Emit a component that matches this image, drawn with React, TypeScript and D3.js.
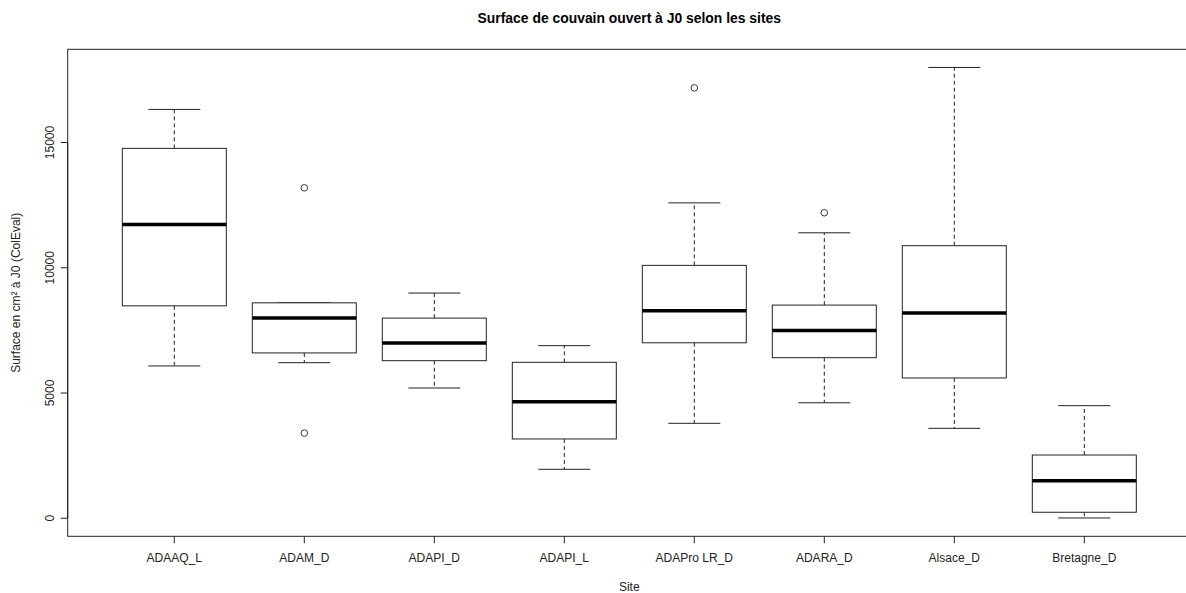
import React from "react";
import * as d3 from "d3";

const categories = ["ADAAQ_L", "ADAM_D", "ADAPI_D", "ADAPI_L", "ADAPro LR_D", "ADARA_D", "Alsace_D", "Bretagne_D"];
const whiskerLow = [6080, 6210, 5200, 1955, 3790, 4610, 3590, 12];
const q1 = [8480, 6600, 6290, 3165, 7005, 6410, 5600, 240];
const medians = [11730, 7990, 6995, 4650, 8285, 7500, 8190, 1500];
const q3 = [14765, 8600, 7990, 6225, 10095, 8510, 10880, 2525];
const whiskerHigh = [16320, 8600, 8990, 6890, 12590, 11395, 17995, 4495];
const outlierCat = ["ADAM_D", "ADAM_D", "ADAPro LR_D", "ADARA_D"];
const outlierVal = [13190, 3400, 17180, 12195];
const yTicks = [0, 5000, 10000, 15000];

const W = 1186, H = 593;
const left = 67.7, right = 1190.9, top = 49.3, bottom = 536.3;

export default function App() {
  const n = categories.length;
  const x = d3.scaleLinear().domain([0.5 - 0.32, n + 0.5 + 0.32]).range([left, right]);
  const y = d3.scaleLinear().domain([-720, 18720]).range([bottom, top]);
  const unit = x(2) - x(1);
  const boxHalf = unit * 0.4;
  const capHalf = boxHalf * 0.5;
  const stroke = "#222";
  const font = "Liberation Sans, Arial, sans-serif";

  return (
    <svg width={W} height={H} style={{ position: "absolute", left: 0, top: 0, background: "#fff" }} fontFamily={font}>
      <rect x={0} y={0} width={W} height={H} fill="#fff" />
      <text x={(left + right) / 2} y={23} textAnchor="middle" fontWeight="bold" fontSize={13.9} fill="#000">
        Surface de couvain ouvert à J0 selon les sites
      </text>
      {/* plot box */}
      <rect x={left} y={top} width={right - left} height={bottom - top} fill="none" stroke={stroke} strokeWidth={1} />
      {/* y axis */}
      {yTicks.map((t) => (
        <g key={t}>
          <line x1={left - 7} x2={left} y1={y(t)} y2={y(t)} stroke={stroke} />
          <text transform={`translate(${left - 18},${y(t)}) rotate(-90)`} textAnchor="middle" fontSize={12} fill="#222" dy="0.35em">
            {t}
          </text>
        </g>
      ))}
      <line x1={left} x2={left} y1={y(yTicks[0])} y2={y(yTicks[yTicks.length - 1])} stroke={stroke} />
      <text transform={`translate(16,${(top + bottom) / 2}) rotate(-90)`} textAnchor="middle" fontSize={12} fill="#222" dy="0.35em">
        Surface en cm² à J0 (ColEval)
      </text>
      {/* x axis */}
      {categories.map((c, i) => (
        <g key={c}>
          <line x1={x(i + 1)} x2={x(i + 1)} y1={bottom} y2={bottom + 7} stroke={stroke} />
          <text x={x(i + 1)} y={562} textAnchor="middle" fontSize={12} fill="#222">
            {c}
          </text>
        </g>
      ))}
      <text x={(left + right) / 2} y={591} textAnchor="middle" fontSize={12} fill="#222">
        Site
      </text>
      {/* boxes */}
      {categories.map((c, i) => {
        const cx = x(i + 1);
        return (
          <g key={"b" + c}>
            {whiskerHigh[i] > q3[i] && (
              <line x1={cx} x2={cx} y1={y(q3[i])} y2={y(whiskerHigh[i])} stroke={stroke} strokeDasharray="4,3" />
            )}
            {whiskerLow[i] < q1[i] && (
              <line x1={cx} x2={cx} y1={y(q1[i])} y2={y(whiskerLow[i])} stroke={stroke} strokeDasharray="4,3" />
            )}
            <line x1={cx - capHalf} x2={cx + capHalf} y1={y(whiskerHigh[i])} y2={y(whiskerHigh[i])} stroke={stroke} />
            <line x1={cx - capHalf} x2={cx + capHalf} y1={y(whiskerLow[i])} y2={y(whiskerLow[i])} stroke={stroke} />
            <rect x={cx - boxHalf} y={y(q3[i])} width={boxHalf * 2} height={y(q1[i]) - y(q3[i])} fill="#fff" stroke={stroke} />
            <line x1={cx - boxHalf} x2={cx + boxHalf} y1={y(medians[i])} y2={y(medians[i])} stroke="#000" strokeWidth={3.5} />
          </g>
        );
      })}
      {outlierVal.map((v, k) => {
        const i = categories.indexOf(outlierCat[k]);
        return <circle key={"o" + k} cx={x(i + 1)} cy={y(v)} r={3.3} fill="none" stroke={stroke} strokeWidth={0.9} />;
      })}
    </svg>
  );
}
